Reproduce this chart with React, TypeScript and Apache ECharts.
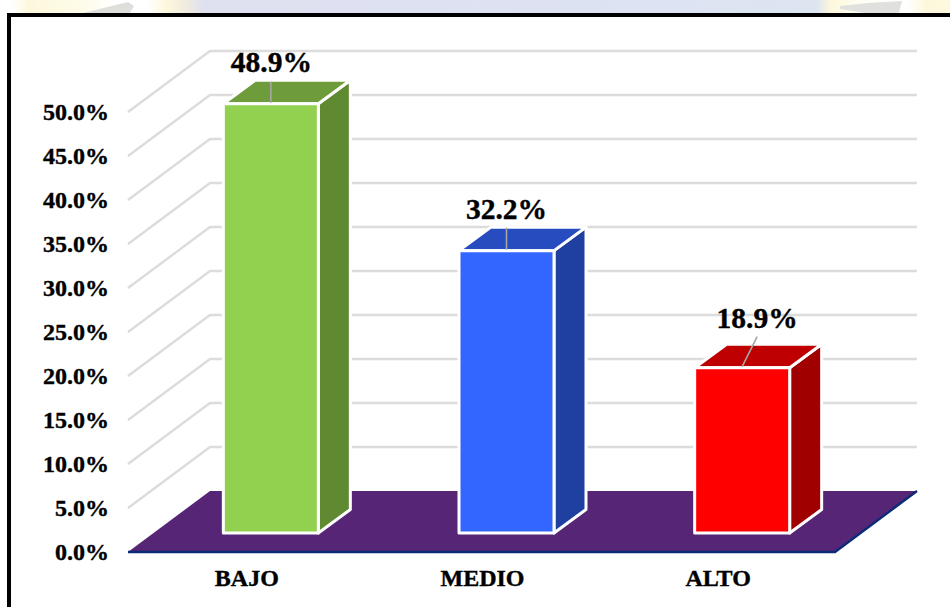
import React, { useEffect, useRef } from "react";
import * as echarts from "echarts";

const categories = ["BAJO", "MEDIO", "ALTO"];
const values = [48.9, 32.2, 18.9];
const gridTicks = [5, 10, 15, 20, 25, 30, 35, 40, 45, 50];

const frontColors = ["#92D050", "#3366FF", "#FF0000"];
const topColors = ["#6F9C3A", "#264CBF", "#BF0000"];
const sideColors = ["#608A31", "#1F40A0", "#A00000"];

const SERIF = '"Liberation Serif", "Times New Roman", serif';
const WALL = { dx: 82, dy: -61 };
const BAR_INSET = { dx: 25, dy: -19 };
const BAR_DEPTH = { dx: 32, dy: -23.5 };
const BAR_HALF = 47.5;
const LABEL_NUDGE = [
  { x: 0.5, y: -42, lineX: 0, lineTop: -22 },
  { x: 0, y: -42, lineX: 0, lineTop: -23 },
  { x: 15, y: -50, lineX: 15, lineTop: -31 },
];

export default function App() {
  const ref = useRef<HTMLDivElement>(null);

  useEffect(() => {
    const chart = echarts.init(ref.current!, null, { renderer: "svg" });
    const stripFill = new echarts.graphic.LinearGradient(0, 0, 1, 0, [
      { offset: 0, color: "#ffffff" },
      { offset: 0.012, color: "#ffffff" },
      { offset: 0.03, color: "#fdf8dc" },
      { offset: 0.085, color: "#fefbe8" },
      { offset: 0.12, color: "#ffffff" },
      { offset: 0.155, color: "#ffffff" },
      { offset: 0.175, color: "#fdf8dc" },
      { offset: 0.195, color: "#f0ecdf" },
      { offset: 0.215, color: "#dfe0f0" },
      { offset: 0.6, color: "#dde2f3" },
      { offset: 0.86, color: "#dde5f1" },
      { offset: 0.875, color: "#fdf8dc" },
      { offset: 0.91, color: "#fffef6" },
      { offset: 0.955, color: "#ffffff" },
      { offset: 0.975, color: "#fdf8dc" },
      { offset: 1, color: "#fdf9e0" },
    ]);

    chart.setOption({
      animation: false,
      backgroundColor: "#ffffff",
      graphic: [
        { type: "rect", z: 0, silent: true, shape: { x: 0, y: 0, width: 950, height: 14 }, style: { fill: stripFill } },
        { type: "polygon", z: 0, silent: true, shape: { points: [[83, 13], [128, 2], [134, 6], [130, 13]] }, style: { fill: "#dededb" } },
        { type: "polygon", z: 0, silent: true, shape: { points: [[840, 6], [868, 3], [902, 1], [899, 13], [865, 13], [840, 9]] }, style: { fill: "#e0e0de" } },
        { type: "rect", z: 0, silent: true, shape: { x: 9, y: 15, width: 960, height: 610 }, style: { fill: "#ffffff", stroke: "#000000", lineWidth: 4 } },
      ],
      grid: { left: 128, right: 115, top: 112, bottom: 55 },
      xAxis: {
        type: "category",
        data: categories,
        axisLine: { show: false },
        axisTick: { show: false },
        axisLabel: {
          margin: 14,
          padding: [0, 0, 0, 2],
          color: "#000000",
          fontFamily: SERIF,
          fontWeight: "bold",
          fontSize: 24,
          textBorderColor: "#000000",
          textBorderWidth: 0.4,
        },
      },
      yAxis: {
        type: "value",
        min: 0,
        max: 50,
        interval: 5,
        axisLine: { show: false },
        axisTick: { show: false },
        splitLine: { show: false },
        axisLabel: {
          margin: 19,
          padding: [2, 0, 0, 0],
          color: "#000000",
          fontFamily: SERIF,
          fontWeight: "bold",
          fontSize: 24,
          textBorderColor: "#000000",
          textBorderWidth: 0.4,
          formatter: (v: number) => v.toFixed(1) + "%",
        },
      },
      series: [
        {
          type: "custom",
          z: 2,
          silent: true,
          data: gridTicks.map((t) => [0, t]),
          renderItem: (params: any, api: any) => {
            const sys = params.coordSys;
            const y = api.coord([0, api.value(1)])[1];
            return {
              type: "polyline",
              shape: {
                points: [
                  [sys.x, y],
                  [sys.x + WALL.dx, y + WALL.dy],
                  [sys.x + sys.width + WALL.dx, y + WALL.dy],
                ],
              },
              style: { stroke: "#DCDCDC", lineWidth: 2.4, fill: "none" },
            };
          },
        },
        {
          type: "custom",
          z: 3,
          silent: true,
          data: [[0, 0]],
          renderItem: (params: any, api: any) => {
            const sys = params.coordSys;
            const y = api.coord([0, 0])[1];
            const r = sys.x + sys.width;
            return {
              type: "group",
              children: [
                {
                  type: "polygon",
                  shape: { points: [[sys.x, y], [r, y], [r + WALL.dx, y + WALL.dy], [sys.x + WALL.dx, y + WALL.dy]] },
                  style: { fill: "#572576" },
                },
                {
                  type: "polyline",
                  shape: { points: [[sys.x, y], [r, y], [r + WALL.dx, y + WALL.dy]] },
                  style: { stroke: "#0B2A78", lineWidth: 2.4, fill: "none" },
                },
              ],
            };
          },
        },
        {
          type: "custom",
          z: 4,
          silent: true,
          data: values.map((v, i) => [i, v]),
          encode: { x: 0, y: 1 },
          renderItem: (_params: any, api: any) => {
            const i = api.value(0);
            const v = api.value(1);
            const [cx, yTop] = api.coord([i, v]);
            const yBase = api.coord([i, 0])[1];
            const l = cx + BAR_INSET.dx - BAR_HALF;
            const r = cx + BAR_INSET.dx + BAR_HALF;
            const t = yTop + BAR_INSET.dy + 1;
            const b = yBase + BAR_INSET.dy;
            const edge = { stroke: "#ffffff", lineWidth: 3, lineJoin: "round" };
            const nudge = LABEL_NUDGE[i];
            const mid = (l + r) / 2;
            return {
              type: "group",
              children: [
                {
                  type: "polygon",
                  shape: { points: [[r, t], [r + BAR_DEPTH.dx, t + BAR_DEPTH.dy], [r + BAR_DEPTH.dx, b + BAR_DEPTH.dy], [r, b]] },
                  style: { fill: sideColors[i], ...edge },
                },
                {
                  type: "polygon",
                  shape: { points: [[l, t], [l + BAR_DEPTH.dx, t + BAR_DEPTH.dy], [r + BAR_DEPTH.dx, t + BAR_DEPTH.dy], [r, t]] },
                  style: { fill: topColors[i], ...edge },
                },
                {
                  type: "rect",
                  shape: { x: l, y: t, width: r - l, height: b - t },
                  style: { fill: frontColors[i], ...edge },
                },
                {
                  type: "line",
                  shape: { x1: mid, y1: t - 1, x2: mid + nudge.lineX, y2: t + nudge.lineTop },
                  style: { stroke: "#A6A6A6", lineWidth: 1.6 },
                },
                {
                  type: "text",
                  style: {
                    x: mid + nudge.x,
                    y: t + nudge.y,
                    text: v.toFixed(1) + "%",
                    fill: "#000000",
                    stroke: "#000000",
                    lineWidth: 0.4,
                    font: `bold 29.5px ${SERIF}`,
                    textAlign: "center",
                    textVerticalAlign: "middle",
                  },
                },
              ],
            };
          },
        },
      ],
    });
    return () => chart.dispose();
  }, []);

  return <div ref={ref} style={{ position: "absolute", left: 0, top: 0, width: 950, height: 607 }} />;
}
